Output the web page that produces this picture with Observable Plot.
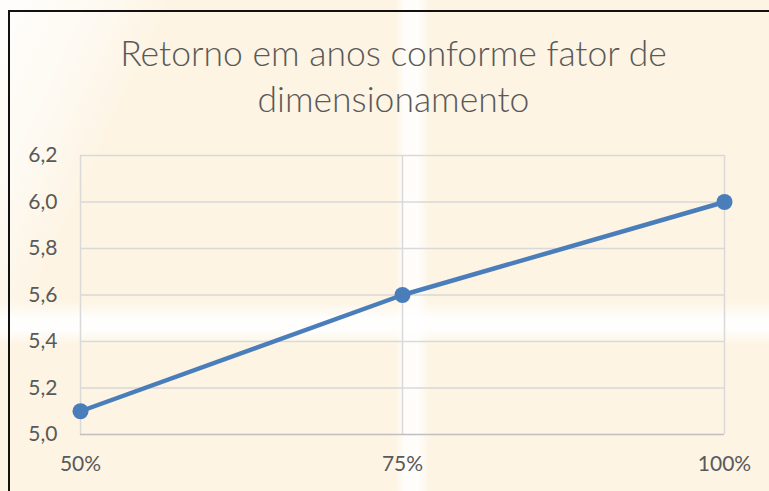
<!DOCTYPE html>
<html>
<head>
<meta charset="utf-8">
<script src="https://cdn.jsdelivr.net/npm/d3@7"></script>
<script src="https://cdn.jsdelivr.net/npm/@observablehq/plot@0.6"></script>
<style>
  html, body { margin: 0; padding: 0; width: 769px; height: 491px; overflow: hidden; }
  body {
    position: relative;
    background:
      linear-gradient(180deg, rgba(255,255,255,0) 0, rgba(255,255,255,0) 300px, rgba(255,255,255,0.9) 318px, rgba(255,255,255,0.9) 330px, rgba(255,255,255,0) 345px),
      linear-gradient(90deg, rgba(255,255,255,0) 0, rgba(255,255,255,0) 395px, rgba(255,255,255,0.85) 405px, rgba(255,255,255,0.85) 418px, rgba(255,255,255,0) 430px),
      linear-gradient(115deg, rgba(255,255,255,0.85) 0, rgba(255,255,255,0.6) 80px, rgba(255,255,255,0) 160px),
      #fdf4e3;
    font-family: Lato, "Open Sans", sans-serif;
  }
  #frame { position: absolute; left: 8px; top: 10px; width: 780px; height: 500px; border: 2px solid #111; box-sizing: border-box; }
  #title { position: absolute; left: 0; top: 30px; width: 787px; text-align: center; font-size: 35.5px; line-height: 46px; color: #595959; font-weight: 300; }
  #chart { position: absolute; left: 0; top: 140px; }
</style>
</head>
<body>
<div id="frame"></div>
<div id="title">Retorno em anos conforme fator de<br>dimensionamento</div>
<div id="chart"></div>
<script>
const categories = ["50%", "75%", "100%"];
const values = [5.1, 5.6, 6.0];
const yTicks = [5.0, 5.2, 5.4, 5.6, 5.8, 6.0, 6.2];

const data = categories.map((c, i) => ({cat: c, val: values[i]}));
const fmt = d => d.toFixed(1).replace(".", ",");

const chart = Plot.plot({
  width: 769,
  height: 351,
  marginLeft: 80,
  marginRight: 45,
  marginTop: 15,
  marginBottom: 57,
  style: {background: "transparent", fontFamily: "Lato, 'Open Sans', sans-serif", fontSize: "21px", color: "#595959"},
  x: {type: "point", domain: categories, padding: 0, label: null},
  y: {domain: [5.0, 6.2], label: null},
  marks: [
    Plot.gridY(yTicks.filter(t => t > 5.0), {stroke: "#d9d9d9", strokeOpacity: 1, strokeWidth: 1.5}),
    Plot.gridX(categories, {stroke: "#d9d9d9", strokeOpacity: 1, strokeWidth: 1.5}),
    Plot.ruleY([5.0], {stroke: "#bfbfbf", strokeWidth: 1.5}),
    Plot.axisY(yTicks, {tickSize: 0, tickPadding: 23, tickFormat: fmt, fill: "#595959", fontSize: 21, label: null}),
    Plot.axisX(categories, {tickSize: 0, tickPadding: 22, fill: "#595959", fontSize: 21, label: null}),
    Plot.line(data, {x: "cat", y: "val", stroke: "#4a7ebb", strokeWidth: 4.5}),
    Plot.dot(data, {x: "cat", y: "val", r: 8, fill: "#4a7ebb"})
  ]
});
document.getElementById("chart").appendChild(chart);
</script>
</body>
</html>
